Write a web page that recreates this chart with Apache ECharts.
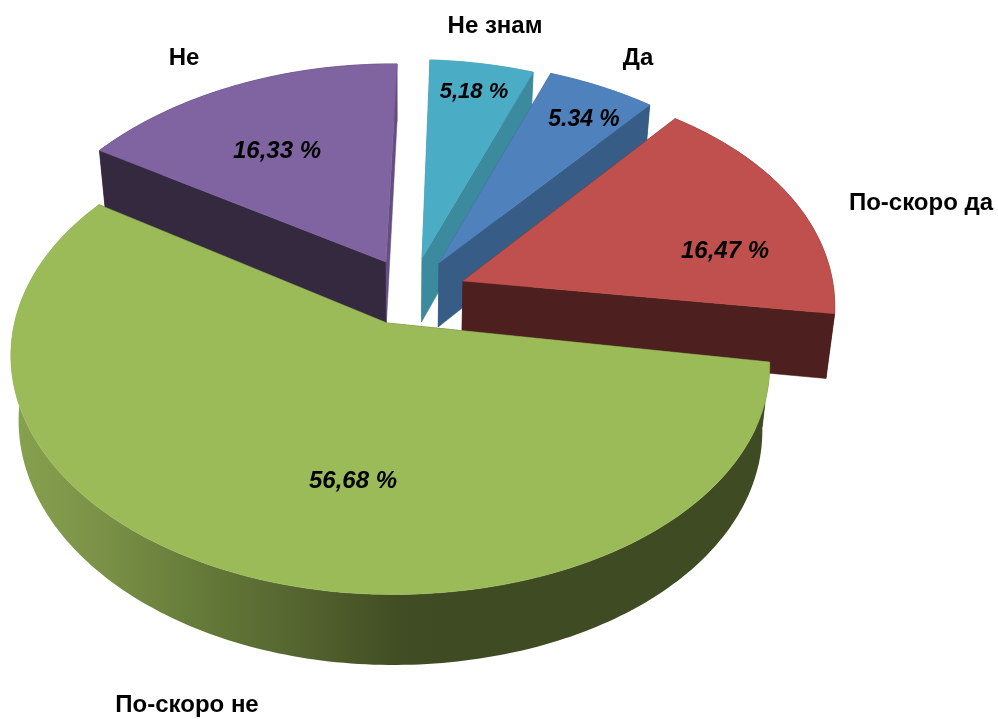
<!DOCTYPE html>
<html><head><meta charset="utf-8">
<style>html,body{margin:0;padding:0;background:#fff}#c{width:998px;height:719px}</style>
<script src="https://cdn.jsdelivr.net/npm/echarts@6/dist/echarts.min.js"></script>
</head><body><div id="c"></div>
<script>
// Data (paint order: back slices first, clockwise)
const categories = ['Не', 'Не знам', 'Да', 'По-скоро да', 'По-скоро не'];
const values = [16.33, 5.18, 5.34, 16.47, 56.68];
const valueLabels = ['16,33 %', '5,18 %', '5.34 %', '16,47 %', '56,68 %'];

// Styling and layout
const topColors = ['#8064a2', '#4bacc6', '#4f81bd', '#c0504d', '#9bbb59'];
const cutColors = ['#34293f', '#3b8a9e', '#375c85', '#4d1f1e', '#3f4b22'];
const endColors = ['#644e80', '#3b8a9e', '#375c85', '#4d1f1e', '#3f4b22'];
const explode = [[-1, -61], [35, -65], [52, -60], [76, -42], [0, 0]];
const nameAt = [[184, 58], [495, 26], [638, 58], [921, 203], [187, 705]];
const valueAt = [[277, 151], [474, 92], [584, 120], [725, 251], [353, 481]];
const valueFont = [24, 22, 23, 24, 24];
const C = [387, 323], RX_LEFT = 370, RX_RIGHT = 379, RY = 229, KX = 0.16, KY = 0.156, SKEW_Y = 10, SKEW_X = 8;
const tune = [
  { skewY: 2, skewX: 11 },
  { rx: 373 },
  { rx: 375, ry: 1.02 },
  { rx: 370, kx: 0.105, ry: 1.02, skewY: 3, skewX: 3 },
  {}
];
const START = -values[0] * 3.6;

function project(deg, r, off, t) {
  const a = deg * Math.PI / 180, u = r * Math.sin(a), v = -r * Math.cos(a);
  const rx = t.rx || (u < 0 ? RX_LEFT : RX_RIGHT), kx = t.kx || KX, ry = RY * (t.ry || 1);
  const sy = t.skewY === undefined ? SKEW_Y : t.skewY;
  const sx = t.skewX === undefined ? SKEW_X : t.skewX;
  return {
    x: C[0] + off[0] + rx * u / (1 - kx * v) - sx * v,
    y: C[1] + off[1] + ry * v / (1 - KY * v) + sy * u,
    v
  };
}
function drop(p) {
  return [p.x - (p.x - 400) * 0.02, p.y + 64 + 6.5 * p.v];
}
const xy = p => [p.x, p.y];
const greenWall = {
  type: 'linear', x: 0, y: 0, x2: 1, y2: 0,
  colorStops: [
    { offset: 0, color: '#87a24f' }, { offset: 0.12, color: '#7a9147' },
    { offset: 0.24, color: '#667c3a' }, { offset: 0.376, color: '#556530' },
    { offset: 0.51, color: '#414d23' }, { offset: 0.56, color: '#3f4b22' }, { offset: 1, color: '#3f4b22' }
  ]
};

function renderItem(params, api) {
  const i = params.dataIndex;
  let before = 0;
  for (let k = 0; k < i; k++) before += values[k];
  const a0 = START + before * 3.6, a1 = a0 + api.value(0) * 3.6;
  const off = explode[i], t = tune[i], apex = project(0, 0, off, t), arc = [];
  const n = Math.ceil(a1 - a0);
  for (let k = 0; k <= n; k++) arc.push(project(a0 + (a1 - a0) * k / n, 1, off, t));
  const first = arc[0], last = arc[arc.length - 1];
  const poly = (points, fill) => ({
    type: 'polygon', shape: { points }, silent: true,
    style: { fill, stroke: typeof fill === 'string' ? fill : 'none', lineWidth: 0.5 }
  });
  const text = (s, at, font) => ({
    type: 'text', silent: true, z2: 100,
    style: { text: s, x: at[0], y: at[1], font, fill: '#000', textAlign: 'center', textVerticalAlign: 'middle' }
  });
  return {
    type: 'group',
    children: [
      poly([...arc.map(xy), ...arc.map(drop).reverse()], i === 4 ? greenWall : cutColors[i]),
      poly([xy(apex), xy(first), drop(first), drop(apex)], cutColors[i]),
      poly([xy(apex), xy(last), drop(last), drop(apex)], endColors[i]),
      poly([xy(apex), ...arc.map(xy)], topColors[i]),
      text(valueLabels[i], valueAt[i], `italic bold ${valueFont[i]}px "Liberation Sans", Arial, sans-serif`),
      text(categories[i], nameAt[i], 'bold 24px "Liberation Sans", Arial, sans-serif')
    ]
  };
}

const chart = echarts.init(document.getElementById('c'), null, { renderer: 'canvas' });
chart.setOption({
  animation: false,
  backgroundColor: '#fff',
  series: [{
    type: 'custom',
    coordinateSystem: 'none',
    renderItem,
    clip: false,
    data: values.map((v, i) => ({ name: categories[i], value: [v] }))
  }]
});
</script></body></html>
